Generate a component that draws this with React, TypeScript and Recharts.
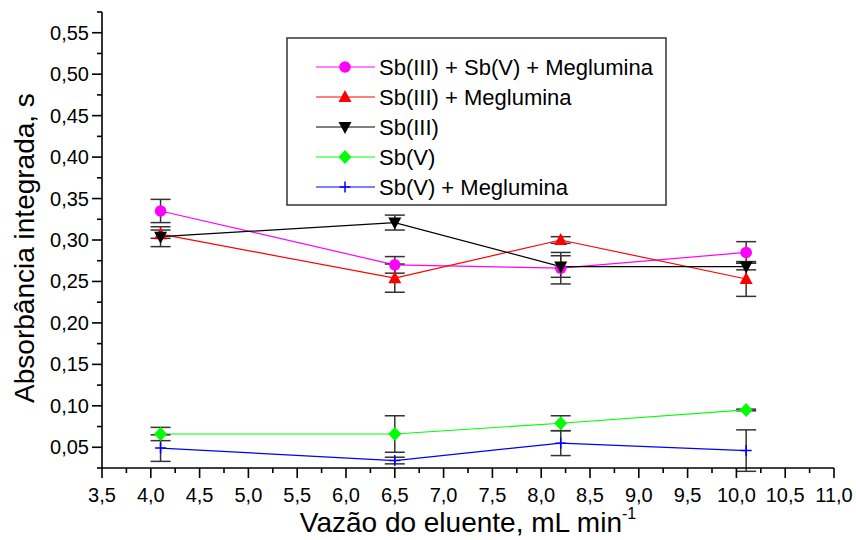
import { LineChart, Line, XAxis, YAxis, ErrorBar, Legend } from 'recharts';

const flowRates = [4.1, 6.5, 8.2, 10.1];

const sb3Sb5Meg = [0.335, 0.270, 0.266, 0.285];
const sb3Sb5MegErr = [0.014, 0.010, 0.019, 0.013];
const sb3Meg = [0.307, 0.254, 0.300, 0.253];
const sb3MegErr = [0.005, 0.017, 0.004, 0.021];
const sb3 = [0.304, 0.321, 0.268, 0.268];
const sb3Err = [0.012, 0.009, 0.013, 0.004];
const sb5 = [0.066, 0.066, 0.079, 0.095];
const sb5Err = [0.008, 0.022, 0.009, 0.001];
const sb5Meg = [0.049, 0.034, 0.055, 0.046];
const sb5MegErr = [0.016, 0.004, 0.015, 0.025];

const xTicks = [
  3.5, 3.75, 4, 4.25, 4.5, 4.75, 5, 5.25, 5.5, 5.75, 6, 6.25, 6.5, 6.75, 7, 7.25,
  7.5, 7.75, 8, 8.25, 8.5, 8.75, 9, 9.25, 9.5, 9.75, 10, 10.25, 10.5, 10.75, 11,
];
const yTicks = [
  0.025, 0.05, 0.075, 0.1, 0.125, 0.15, 0.175, 0.2, 0.225, 0.25, 0.275, 0.3,
  0.325, 0.35, 0.375, 0.4, 0.425, 0.45, 0.475, 0.5, 0.525, 0.55, 0.575,
];

const FONT = "'Liberation Sans', Arial, sans-serif";

type Shape = 'circle' | 'up' | 'down' | 'diamond' | 'plus';

const seriesInfo: { key: string; name: string; color: string; shape: Shape; values: number[]; errs: number[] }[] = [
  { key: 'a', name: 'Sb(III) + Sb(V) + Meglumina', color: '#FF00FF', shape: 'circle', values: sb3Sb5Meg, errs: sb3Sb5MegErr },
  { key: 'b', name: 'Sb(III) + Meglumina', color: '#FF0000', shape: 'up', values: sb3Meg, errs: sb3MegErr },
  { key: 'c', name: 'Sb(III)', color: '#000000', shape: 'down', values: sb3, errs: sb3Err },
  { key: 'd', name: 'Sb(V)', color: '#00FF00', shape: 'diamond', values: sb5, errs: sb5Err },
  { key: 'e', name: 'Sb(V) + Meglumina', color: '#0000FF', shape: 'plus', values: sb5Meg, errs: sb5MegErr },
];

const data = flowRates.map((x, i) => {
  const row: Record<string, number> = { x };
  seriesInfo.forEach((s) => {
    row[s.key] = s.values[i];
    row[s.key + 'Err'] = s.errs[i];
  });
  return row;
});

const Marker = ({ shape, cx, cy, color }: { shape: Shape; cx: number; cy: number; color: string }) => {
  switch (shape) {
    case 'circle':
      return <circle cx={cx} cy={cy} r={5.8} fill={color} />;
    case 'up':
      return <path d={`M${cx},${cy - 7} L${cx + 6.5},${cy + 5} L${cx - 6.5},${cy + 5} Z`} fill={color} />;
    case 'down':
      return <path d={`M${cx},${cy + 7} L${cx + 6.5},${cy - 5} L${cx - 6.5},${cy - 5} Z`} fill={color} />;
    case 'diamond':
      return <path d={`M${cx},${cy - 7} L${cx + 6.5},${cy} L${cx},${cy + 7} L${cx - 6.5},${cy} Z`} fill={color} />;
    default:
      return (
        <path
          d={`M${cx - 5.5},${cy} L${cx + 5.5},${cy} M${cx},${cy - 5.5} L${cx},${cy + 5.5}`}
          stroke={color}
          strokeWidth={1.5}
          fill="none"
        />
      );
  }
};

const isMajor = (v: number, step: number) => Math.abs(v / step - Math.round(v / step)) < 1e-6;

const XTick = ({ x, y, payload }: any) => {
  const v = payload.value as number;
  const major = isMajor(v, 0.5);
  return (
    <g>
      <line x1={x} x2={x} y1={y} y2={y + (major ? 10 : 5)} stroke="#000" strokeWidth={1.6} />
      {major && (
        <text x={x} y={y + 34} textAnchor="middle" fontSize={20} fontFamily={FONT} fill="#000">
          {v.toFixed(1).replace('.', ',')}
        </text>
      )}
    </g>
  );
};

const YTick = ({ x, y, payload }: any) => {
  const v = payload.value as number;
  const major = isMajor(v, 0.05);
  return (
    <g>
      <line x1={x} x2={x - (major ? 10 : 5)} y1={y} y2={y} stroke="#000" strokeWidth={1.6} />
      {major && (
        <text x={x - 13} y={y + 7} textAnchor="end" fontSize={20} fontFamily={FONT} fill="#000">
          {v.toFixed(2).replace('.', ',')}
        </text>
      )}
    </g>
  );
};

const LegendBox = () => (
  <svg width={382} height={170} style={{ display: 'block' }}>
    <rect x={1} y={1} width={379} height={167} fill="#fff" stroke="#333" strokeWidth={1.5} />
    {seriesInfo.map((s, i) => {
      const cy = 30 + i * 30;
      return (
        <g key={s.key}>
          <line x1={30} x2={89} y1={cy} y2={cy} stroke={s.color} strokeWidth={1} />
          <Marker shape={s.shape} cx={59} cy={cy} color={s.color} />
          <text x={93} y={cy + 8} fontSize={22} fontFamily={FONT} fill="#000">
            {s.name}
          </text>
        </g>
      );
    })}
  </svg>
);

const YTitle = () => (
  <text
    x={34}
    y={248}
    transform="rotate(-90 34 248)"
    textAnchor="middle"
    fontSize={28}
    fontFamily={FONT}
    fill="#000"
  >
    Absorbância integrada, s
  </text>
);

const XTitle = () => (
  <text x={468} y={532} textAnchor="middle" fontSize={28} fontFamily={FONT} fill="#000">
    Vazão do eluente, mL min
    <tspan fontSize={16} dy={-13}>-1</tspan>
  </text>
);

export default function App() {
  return (
    <div style={{ position: 'absolute', left: 0, top: 0, background: '#fff' }}>
      <LineChart width={856} height={540} data={data} margin={{ top: 12, right: 22, bottom: 0, left: 0 }}>
        <XAxis
          type="number"
          dataKey="x"
          domain={[3.5, 11]}
          ticks={xTicks}
          interval={0}
          allowDataOverflow
          height={72}
          tickSize={0}
          tickMargin={0}
          tickLine={false}
          axisLine={{ stroke: '#000', strokeWidth: 1.6 }}
          tick={<XTick />}
          label={<XTitle />}
        />
        <YAxis
          type="number"
          domain={[0.025, 0.575]}
          ticks={yTicks}
          interval={0}
          allowDataOverflow
          width={102}
          tickSize={0}
          tickMargin={0}
          tickLine={false}
          axisLine={{ stroke: '#000', strokeWidth: 1.6 }}
          tick={<YTick />}
          label={<YTitle />}
        />
        <Legend
          layout="vertical"
          align="center"
          verticalAlign="middle"
          content={() => <LegendBox />}
          wrapperStyle={{ left: 286, top: 37, width: 382, height: 170 }}
        />
        {seriesInfo.map((s) => (
          <Line
            key={s.key}
            dataKey={s.key}
            name={s.name}
            stroke={s.color}
            strokeWidth={1.2}
            isAnimationActive={false}
            dot={(p: any) => (
              <g key={`${s.key}-${p.index}`}>
                <Marker shape={s.shape} cx={p.cx} cy={p.cy} color={s.color} />
              </g>
            )}
            activeDot={false}
          >
            <ErrorBar dataKey={s.key + 'Err'} direction="y" width={10} stroke="#333" strokeWidth={1.5} />
          </Line>
        ))}
      </LineChart>
    </div>
  );
}
